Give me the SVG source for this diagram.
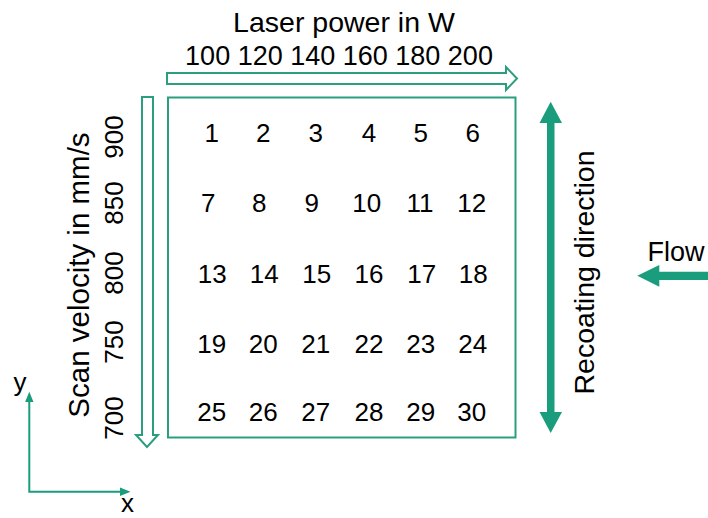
<svg xmlns="http://www.w3.org/2000/svg" width="708" height="518" viewBox="0 0 708 518">
<style>
text{font-family:"Liberation Sans",Arial,sans-serif;fill:#000}
.lab{font-size:28.5px}
.num{font-size:26px;text-anchor:middle}
.ax{font-size:26px;text-anchor:middle}
.out{fill:#fff;stroke:#2a9e7e;stroke-width:2}
.solid{fill:#1a9d7c;stroke:none}
.line{fill:none;stroke:#1a9d7c;stroke-width:2}
</style>
<rect width="708" height="518" fill="#fff"/>

<g id="connectors">
  <polygon class="out" points="167,73 506,73 506,67 517,78.5 506,90 506,84 167,84"/>
  <polygon class="out" points="142,97 153,97 153,435 158,435 147,447 136,435 142,435"/>
  <polygon class="solid" points="550.7,101.7 562,123 554.5,123 554.5,412 562,412 550.7,433 539.5,412 547,412 547,123 539.5,123"/>
  <polygon class="solid" points="637.3,275.7 659.3,265 659.3,271.7 708,271.7 708,280 659.3,280 659.3,286.7"/>
  <polyline class="line" points="29.3,402 29.3,491.7 120,491.7"/>
  <polygon class="solid" points="29.3,391.7 33.5,402 25.1,402"/>
  <polygon class="solid" points="130.5,491.7 120,487.5 120,495.9"/>
</g>

<g id="grid">
  <rect x="168" y="97.5" width="347.5" height="340" fill="none" stroke="#2a9e7e" stroke-width="2"/>
</g>

<g id="title-power"><text class="lab" x="344" y="31.5" text-anchor="middle">Laser power in W</text></g>
<g id="power-values"><text x="339" y="65" text-anchor="middle" style="font-size:27px">100 120 140 160 180 200</text></g>

<g id="title-velocity"><text class="lab" transform="translate(88.5,275) rotate(-90)" text-anchor="middle" style="font-size:29.5px">Scan velocity in mm/s</text></g>
<g id="velocity-values">
  <text class="num" transform="translate(123.3,137) rotate(-90)">900</text>
  <text class="num" transform="translate(123.3,203) rotate(-90)">850</text>
  <text class="num" transform="translate(123.3,273) rotate(-90)">800</text>
  <text class="num" transform="translate(123.3,342) rotate(-90)">750</text>
  <text class="num" transform="translate(123.3,418) rotate(-90)">700</text>
</g>

<g id="recoating"><text class="lab" transform="translate(593.5,272.5) rotate(-90)" text-anchor="middle">Recoating direction</text></g>
<g id="flow"><text x="676" y="261" text-anchor="middle" style="font-size:27px">Flow</text></g>

<g id="axis-y"><text class="ax" x="20" y="391">y</text></g>
<g id="axis-x"><text class="ax" x="127.5" y="512">x</text></g>

<g id="c1"><text class="num" x="211.7" y="142">1</text></g>
<g id="c2"><text class="num" x="263.3" y="142">2</text></g>
<g id="c3"><text class="num" x="315.7" y="142">3</text></g>
<g id="c4"><text class="num" x="369" y="142">4</text></g>
<g id="c5"><text class="num" x="420.7" y="142">5</text></g>
<g id="c6"><text class="num" x="472.7" y="142">6</text></g>

<g id="c7"><text class="num" x="208.3" y="212">7</text></g>
<g id="c8"><text class="num" x="259.3" y="212">8</text></g>
<g id="c9"><text class="num" x="311.7" y="212">9</text></g>
<g id="c10"><text class="num" x="366.7" y="212">10</text></g>
<g id="c11"><text class="num" x="420" y="212">11</text></g>
<g id="c12"><text class="num" x="471.7" y="212">12</text></g>

<g id="c13"><text class="num" x="212.3" y="283">13</text></g>
<g id="c14"><text class="num" x="264.3" y="283">14</text></g>
<g id="c15"><text class="num" x="316.7" y="283">15</text></g>
<g id="c16"><text class="num" x="369" y="283">16</text></g>
<g id="c17"><text class="num" x="421.7" y="283">17</text></g>
<g id="c18"><text class="num" x="473.3" y="283">18</text></g>

<g id="c19"><text class="num" x="211.7" y="353">19</text></g>
<g id="c20"><text class="num" x="263.3" y="353">20</text></g>
<g id="c21"><text class="num" x="315.7" y="353">21</text></g>
<g id="c22"><text class="num" x="369" y="353">22</text></g>
<g id="c23"><text class="num" x="420.7" y="353">23</text></g>
<g id="c24"><text class="num" x="472.7" y="353">24</text></g>

<g id="c25"><text class="num" x="211.7" y="421">25</text></g>
<g id="c26"><text class="num" x="263.3" y="421">26</text></g>
<g id="c27"><text class="num" x="315.7" y="421">27</text></g>
<g id="c28"><text class="num" x="369" y="421">28</text></g>
<g id="c29"><text class="num" x="420.7" y="421">29</text></g>
<g id="c30"><text class="num" x="471.7" y="421">30</text></g>
</svg>
